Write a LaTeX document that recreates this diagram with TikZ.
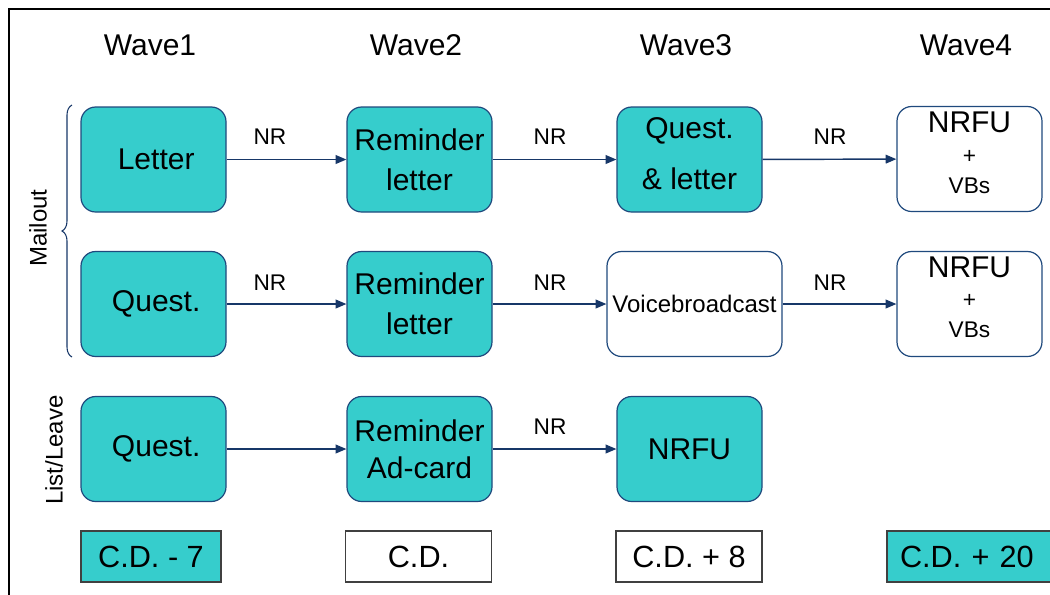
\documentclass[tikz,border=0pt]{standalone}
\usepackage{fontspec}
\setmainfont{Liberation Sans}
\usetikzlibrary{arrows.meta,decorations.pathreplacing}

\definecolor{tealfill}{RGB}{54,205,204}
\definecolor{boxline}{RGB}{31,73,125}
\definecolor{flowline}{RGB}{23,55,104}

\begin{document}
\begin{tikzpicture}[
  x=0.75pt, y=-0.75pt,
  stepbox/.style={draw=boxline, line width=0.9pt, rounded corners=11pt,
    minimum width=108.75pt, minimum height=78.75pt, inner sep=0pt,
    align=center, font=\fontsize{22.5}{30}\selectfont},
  filled/.style={stepbox, fill=tealfill},
  blank/.style={stepbox, fill=white},
  datebox/.style={draw=black!75, line width=0.9pt, minimum height=38.25pt,
    inner sep=0pt, font=\fontsize{23}{26}\selectfont},
  flow/.style={draw=flowline, line width=1.1pt,
    -{Triangle[length=8pt,width=6.5pt]}},
  nr/.style={font=\fontsize{17}{20}\selectfont},
  wave/.style={font=\fontsize{22.5}{26}\selectfont},
  side/.style={font=\fontsize{18}{20}\selectfont, rotate=90},
  bigline/.style={inner sep=0pt, font=\fontsize{22.5}{24}\selectfont},
  plusline/.style={inner sep=0pt, font=\fontsize{17}{18}\selectfont},
  smallline/.style={inner sep=0pt, font=\fontsize{17}{18}\selectfont}
]
\useasboundingbox (0,0) rectangle (1050,594);
\draw[line width=1.1pt] (9,9) rectangle (1080,620);

% column headings
\node[wave] (w1) at (150,45) {Wave1};
\node[wave] (w2) at (416,45) {Wave2};
\node[wave] (w3) at (686,45) {Wave3};
\node[wave] (w4) at (966,45) {Wave4};

% mail-out, first track
\node[filled] (l1) at (153.5,159.5) {\hspace*{4pt}Letter};
\node[filled] (r1) at (419.5,159.5) {Reminder\\letter};
\node[filled, font=\fontsize{22.5}{38}\selectfont] (q1) at (689.5,159.5)
  {Quest.\\\& letter\rule[-9pt]{0pt}{0pt}};
\node[blank] (n1) at (969.5,159) {};
\node[bigline] (n1a) at (969.5,122) {NRFU};
\node[plusline] (n1b) at (969.5,157) {+};
\node[smallline] (n1c) at (969.5,186) {VBs};

% mail-out, second track
\node[filled] (q2) at (153.5,304) {\hspace*{4pt}Quest.};
\node[filled] (r2) at (419.5,304) {Reminder\\letter};
\node[blank, minimum width=131.25pt, font=\fontsize{18}{20}\selectfont] (v2) at (694.5,304) {Voicebroadcast};
\node[blank] (n2) at (969.5,304) {};
\node[bigline] (n2a) at (969.5,267) {NRFU};
\node[plusline] (n2b) at (969.5,301) {+};
\node[smallline] (n2c) at (969.5,330) {VBs};

% list/leave track
\node[filled] (q3) at (153.5,449) {\hspace*{4pt}Quest.};
\node[filled, font=\fontsize{22.5}{28}\selectfont] (r3) at (419.5,449) {Reminder\\Ad-card};
\node[filled] (f3) at (689.5,449) {NRFU};

% connectors
\draw[flow] (l1) -- (r1);
\draw[flow] (r1) -- (q1);
\draw[flow] (q1) -- (n1);
\draw[flow] (q2) -- (r2);
\draw[flow] (r2) -- (v2);
\draw[flow] (v2) -- (n2);
\draw[flow] (q3) -- (r3);
\draw[flow] (r3) -- (f3);

% non-response labels
\node[nr] (nr1) at (270,137) {NR};
\node[nr] (nr2) at (550,137) {NR};
\node[nr] (nr3) at (830,137) {NR};
\node[nr] (nr4) at (270,283) {NR};
\node[nr] (nr5) at (550,283) {NR};
\node[nr] (nr6) at (830,283) {NR};
\node[nr] (nr7) at (550,427) {NR};

% side labels and brace
\coordinate (bbot) at (72,357);
\coordinate (btop) at (72,105);
\draw[flowline, line width=0.8pt, decorate,
  decoration={brace, amplitude=7.5pt}] (bbot) -- (btop);
\node[side] (mail) at (38,228) {Mailout};
\node[side] (list) at (54,450) {List/Leave};

% census-day offsets
\node[datebox, fill=tealfill, minimum width=105pt] (d1) at (151,556.5) {C.D. - 7};
\node[datebox, fill=white, minimum width=110pt] (d2) at (418.5,556.5) {C.D.};
\node[datebox, fill=white, minimum width=109.5pt] (d3) at (689,556.5) {C.D. + 8};
\node[datebox, fill=tealfill, minimum width=130.5pt, text width=115pt, align=left] (d4) at (974,556.5) {\hspace*{2pt}C.D. + 20};
\end{tikzpicture}
\end{document}
